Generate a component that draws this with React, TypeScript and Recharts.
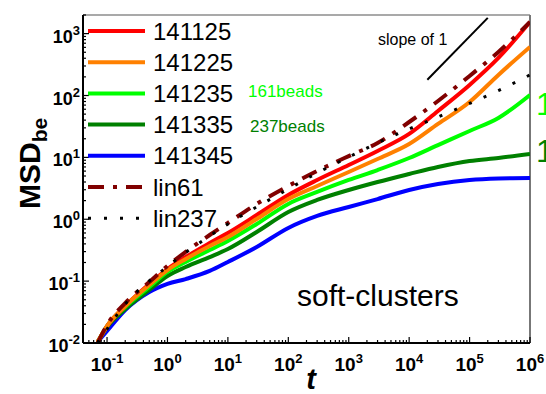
import { LineChart, Line, XAxis, YAxis, ReferenceLine } from 'recharts';

// lag time t and MSD of bead ensembles (log-log)
const times = [0.07, 0.1, 0.2, 0.5, 1, 2, 5, 10, 30, 100, 300, 1000, 3000, 1e4, 3e4, 1e5, 3e5, 1e6];
const msd141125 = [0.0104, 0.0188, 0.0396, 0.0899, 0.157, 0.245, 0.413, 0.6, 1.17, 2.47, 4.31, 7.53, 12.7, 23.9, 56.2, 148, 404, 1543];
const msd141225 = [0.0104, 0.0188, 0.0396, 0.0866, 0.151, 0.228, 0.37, 0.516, 1.01, 2.12, 3.45, 5.81, 9.42, 16.4, 34.7, 78.6, 215, 609];
const msd141235 = [0.0104, 0.0188, 0.0382, 0.0803, 0.141, 0.204, 0.318, 0.446, 0.838, 1.77, 2.76, 4.31, 6.25, 9.77, 15.8, 26.7, 43.4, 102];
const msd141335 = [0.0104, 0.0181, 0.0354, 0.072, 0.121, 0.169, 0.245, 0.33, 0.622, 1.31, 2.05, 2.97, 4.0, 5.39, 7.0, 8.75, 9.77, 11.35];
const msd141345 = [0.0104, 0.0156, 0.0341, 0.0667, 0.09, 0.108, 0.146, 0.204, 0.356, 0.723, 1.13, 1.58, 2.12, 2.97, 3.71, 4.31, 4.56, 4.64];
const lin61 = [0.01, 0.0196, 0.0443, 0.0968, 0.176, 0.296, 0.557, 0.871, 1.77, 3.45, 6.03, 10.5, 17.1, 37.3, 81.5, 207, 505, 1543];
const lin237 = [0.01, 0.0168, 0.0427, 0.1005, 0.172, 0.29, 0.536, 0.838, 1.58, 3.08, 5.6, 10.1, 17.1, 28.8, 45.0, 74.3, 120, 215];

// reference segment with unit slope
const slopeStart = { x: 2e4, y: 180 };
const slopeEnd = { x: 2e5, y: 1800 };

const xDomain = [0.04, 1e6];
const yDomain = [0.01, 2000];
const xDecades = [-1, 0, 1, 2, 3, 4, 5, 6];
const yDecades = [-2, -1, 0, 1, 2, 3];

const FONT = '"Liberation Sans", Arial, Helvetica, sans-serif';

// major ticks at powers of ten, minor ticks at 2..9 within the domain
function logTicks(decades: number[], lo: number, hi: number) {
  const out: number[] = [];
  for (let e = decades[0] - 1; e <= decades[decades.length - 1]; e++) {
    for (let m = 1; m <= 9; m++) {
      const v = m * Math.pow(10, e);
      if (v >= lo && v <= hi) out.push(Number(v.toPrecision(6)));
    }
  }
  return out;
}

const xTicks = logTicks(xDecades, xDomain[0], xDomain[1]);
const yTicks = logTicks(yDecades, yDomain[0], yDomain[1]);

const data = times.map((t, i) => ({
  t,
  s141125: msd141125[i],
  s141225: msd141225[i],
  s141235: msd141235[i],
  s141335: msd141335[i],
  s141345: msd141345[i],
  lin61: lin61[i],
  lin237: lin237[i],
}));

type Series = { key: string; name: string; color: string; width: number; dash?: string };

const series: Series[] = [
  { key: 's141125', name: '141125', color: '#ff0000', width: 4 },
  { key: 's141225', name: '141225', color: '#ff8000', width: 4 },
  { key: 's141235', name: '141235', color: '#00ff00', width: 4 },
  { key: 's141335', name: '141335', color: '#008000', width: 4 },
  { key: 's141345', name: '141345', color: '#0000ff', width: 4 },
  { key: 'lin61', name: 'lin61', color: '#800000', width: 4, dash: '16 9 4 9' },
  { key: 'lin237', name: 'lin237', color: '#000000', width: 3, dash: '3 13' },
];

// draw order: coloured curves bottom-up, reference laws on top
const drawOrder = ['s141345', 's141335', 's141235', 's141125', 's141225', 'lin61', 'lin237'];

function exponentOf(v: number) {
  const e = Math.round(Math.log10(v));
  return { e, major: Math.abs(v - Math.pow(10, e)) < 1e-6 * v };
}

function XTick(props: any) {
  const { x, y, payload } = props;
  const { e, major } = exponentOf(payload.value);
  return (
    <g>
      <line x1={x} x2={x} y1={y} y2={y - (major ? 6 : 3)} stroke="#000" strokeWidth={1.2} />
      {major && (
        <text x={x} y={y + 28} textAnchor="middle" fontFamily={FONT} fontWeight="bold" fontSize={19} fill="#000">
          10<tspan dy={-8} fontSize={13}>{e}</tspan>
        </text>
      )}
    </g>
  );
}

function YTick(props: any) {
  const { x, y, payload } = props;
  const { e, major } = exponentOf(payload.value);
  return (
    <g>
      <line x1={x} x2={x + (major ? 6 : 3)} y1={y} y2={y} stroke="#000" strokeWidth={1.2} />
      {major && (
        <text x={x - 3} y={y + 9} textAnchor="end" fontFamily={FONT} fontWeight="bold" fontSize={18} fill="#000">
          10<tspan dy={-8} fontSize={13}>{e}</tspan>
        </text>
      )}
    </g>
  );
}

export default function App() {
  const byKey = Object.fromEntries(series.map((s) => [s.key, s]));
  return (
    <div style={{ position: 'absolute', left: 0, top: 0, width: 546, height: 394, background: '#fff' }}>
      <LineChart width={546} height={394} data={data} margin={{ top: 15, right: 16, bottom: 0, left: 0 }}>
        <XAxis
          dataKey="t"
          type="number"
          scale="log"
          domain={xDomain}
          allowDataOverflow
          ticks={xTicks}
          interval={0}
          height={51}
          tickSize={0}
          tickMargin={0}
          tickLine={false}
          tick={<XTick />}
          axisLine={{ stroke: '#000', strokeWidth: 2 }}
        />
        <YAxis
          type="number"
          scale="log"
          domain={yDomain}
          allowDataOverflow
          ticks={yTicks}
          interval={0}
          width={83}
          tickSize={0}
          tickMargin={0}
          tickLine={false}
          tick={<YTick />}
          axisLine={{ stroke: '#000', strokeWidth: 2 }}
        />
        <ReferenceLine y={yDomain[1]} stroke="#555" strokeWidth={1.2} />
        <ReferenceLine x={xDomain[1]} stroke="#777" strokeWidth={2} />
        <ReferenceLine segment={[slopeStart, slopeEnd]} stroke="#000" strokeWidth={2} />
        {drawOrder.map((k) => {
          const s = byKey[k];
          return (
            <Line
              key={k}
              dataKey={k}
              type="monotone"
              stroke={s.color}
              strokeWidth={s.width}
              strokeDasharray={s.dash}
              dot={false}
              activeDot={false}
              isAnimationActive={false}
            />
          );
        })}
      </LineChart>
      <svg
        width={546}
        height={394}
        style={{ position: 'absolute', left: 0, top: 0, pointerEvents: 'none' }}
        fontFamily={FONT}
      >
        {series.map((s, i) => {
          const rowY = 31 + i * 31.2;
          return (
            <g key={s.key}>
              <line x1={88} x2={145} y1={rowY} y2={rowY} stroke={s.color} strokeWidth={s.width} strokeDasharray={s.dash} />
              <text x={153} y={rowY + 8.5} fontSize={24} fill="#000">
                {s.name}
              </text>
            </g>
          );
        })}
        <text x={248} y={97} fontSize={17} fill="#00ff00">161beads</text>
        <text x={250} y={132} fontSize={17} fill="#008000">237beads</text>
        <text x={378} y={45} fontSize={16} fill="#000">slope of 1</text>
        <text x={297} y={306} fontSize={30} fill="#000">soft-clusters</text>
        <text x={536} y={115} fontSize={32} fill="#00ff00">141235</text>
        <text x={536} y={162} fontSize={32} fill="#008000">141335</text>
        <text x={311} y={389} textAnchor="middle" fontSize={29} fontWeight="bold" fontStyle="italic" fill="#000">
          t
        </text>
        <text transform="translate(40 209) rotate(-90)" fontSize={30} fontWeight="bold" fill="#000">
          MSD<tspan dy={7} fontSize={21}>be</tspan>
        </text>
      </svg>
    </div>
  );
}
